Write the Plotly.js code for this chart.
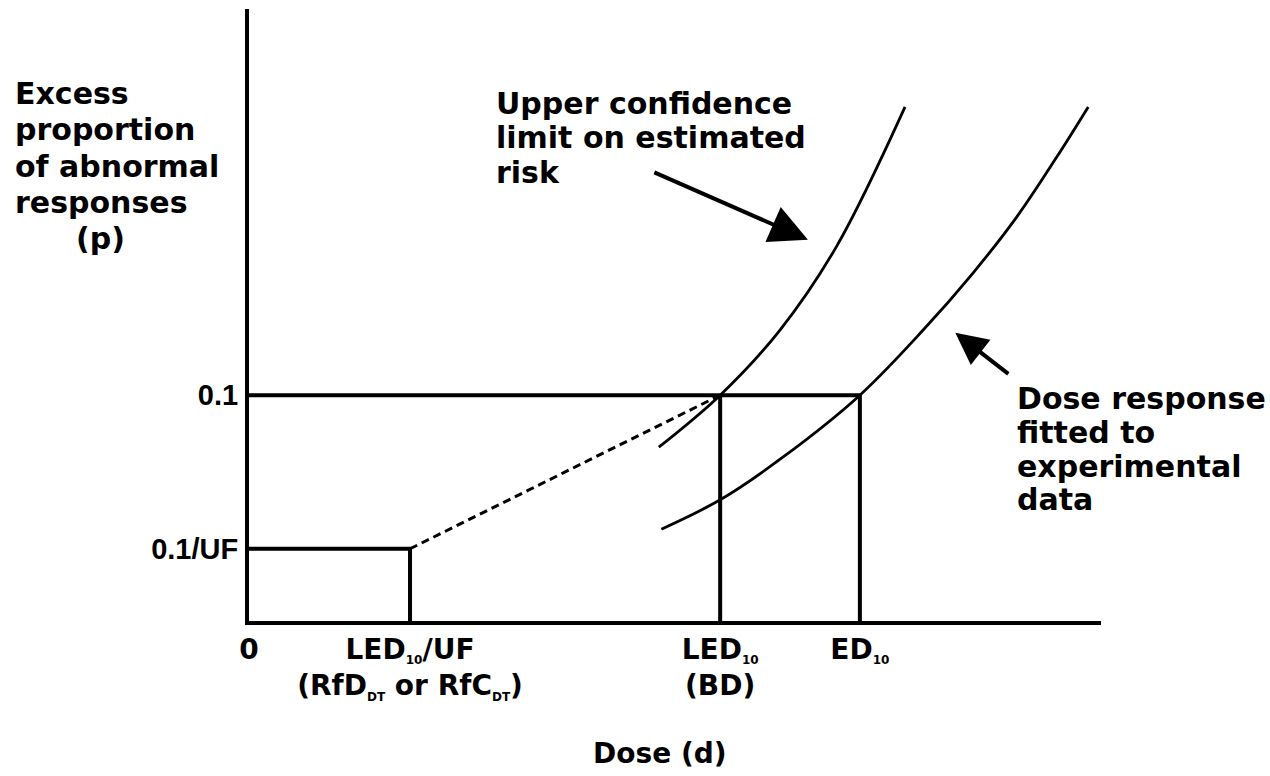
<!DOCTYPE html>
<html><head><meta charset="utf-8">
<script src="https://cdn.plot.ly/plotly-3.0.1.min.js"></script>
<style>html,body{margin:0;padding:0;background:#fff;}</style>
</head><body>
<div id="chart" style="width:1270px;height:776px;"></div>
<script>
// Key doses (arbitrary dose units on a 0-100 axis)
const doseLED10UF = 18.9;
const doseLED10 = 55.3;
const doseED10 = 71.7;
// Key response levels (arbitrary units on a 0-100 axis)
const resp01 = 36.9;
const resp01UF = 11.8;

// Upper confidence limit on estimated risk
const upperDose = [48.1, 55.3, 62.3, 69.0, 77.0];
const upperResp = [28.4, 36.9, 47.5, 61.3, 84.0];
// Dose response fitted to experimental data
const fitDose = [48.4, 55.3, 62.7, 71.7, 79.1, 85.0, 90.1, 94.8, 98.5];
const fitResp = [15.0, 19.8, 26.8, 36.9, 47.5, 56.9, 66.0, 75.8, 84.0];

const SUB = s => '<sub><span style="font-size:12px">' + s + '</span></sub>';
const xTickVals = [0, doseLED10UF, doseLED10, doseED10];
const xTickText = ['0',
  'LED' + SUB('10') + '/UF<br>(RfD' + SUB('DT') + ' or RfC' + SUB('DT') + ')',
  'LED' + SUB('10') + '<br>(BD)',
  'ED' + SUB('10')];
const yTickVals = [resp01UF, resp01];
const yTickText = ['0.1/UF', '0.1'];

const yTitleLines = ['Excess', 'proportion', 'of abnormal', 'responses', '(p)'];
const upperLabelLines = ['Upper confidence', 'limit on estimated', 'risk'];
const fitLabelLines = ['Dose response', 'fitted to', 'experimental', 'data'];
const xTitle = 'Dose (d)';

const black = '#000';
const refLine = {color: black, width: 4};
const traces = [
  {x: [0, doseED10, doseED10], y: [resp01, resp01, 0], mode: 'lines', line: refLine},
  {x: [doseLED10, doseLED10], y: [resp01, 0], mode: 'lines', line: refLine},
  {x: [0, doseLED10UF, doseLED10UF], y: [resp01UF, resp01UF, 0], mode: 'lines', line: refLine},
  {x: [doseLED10UF, doseLED10], y: [resp01UF, resp01], mode: 'lines',
   line: {color: black, width: 3, dash: '8px,5px'}},
  {x: upperDose, y: upperResp, mode: 'lines', line: {color: black, width: 2.8, shape: 'spline', smoothing: 1}},
  {x: fitDose, y: fitResp, mode: 'lines', line: {color: black, width: 2.8, shape: 'spline', smoothing: 1}}
];

// pixel -> paper helpers for text placement
const L = 249, R = 1101, T = 9, B = 621;
const px = v => (v - L) / (R - L);
const py = v => (B - v) / (B - T);
const wordFont = {family: 'DejaVu Sans', size: 30, color: black, weight: 'bold'};

const annotations = [];
const yTitleY = [94, 130, 166, 202, 238];
yTitleLines.forEach((t, i) => annotations.push({
  text: t, xref: 'paper', yref: 'paper', x: px(i === 4 ? 74 : 13), y: py(yTitleY[i]),
  xanchor: 'left', yanchor: 'middle', showarrow: false, font: wordFont}));
const upY = [103, 137, 172];
upperLabelLines.forEach((t, i) => annotations.push({
  text: t, xref: 'paper', yref: 'paper', x: px(494), y: py(upY[i]),
  xanchor: 'left', yanchor: 'middle', showarrow: false, font: wordFont}));
const fitY = [398, 432, 466, 499];
fitLabelLines.forEach((t, i) => annotations.push({
  text: t, xref: 'paper', yref: 'paper', x: px(1015), y: py(fitY[i]),
  xanchor: 'left', yanchor: 'middle', showarrow: false, font: wordFont}));
annotations.push({text: xTitle, xref: 'paper', yref: 'paper', x: px(660), y: py(753),
  xanchor: 'center', yanchor: 'middle', showarrow: false,
  font: {family: 'DejaVu Sans', size: 28, color: black, weight: 'bold'}});
// arrows
annotations.push({x: 65.6, y: 62.3, ax: 47.4, ay: 73.4, xref: 'x', yref: 'y', axref: 'x', ayref: 'y',
  text: '', showarrow: true, arrowhead: 2, arrowsize: 1.9, arrowwidth: 4, arrowcolor: black, standoff: 0});
annotations.push({x: 82.9, y: 47.1, ax: 89.3, ay: 40.2, xref: 'x', yref: 'y', axref: 'x', ayref: 'y',
  text: '', showarrow: true, arrowhead: 2, arrowsize: 1.6, arrowwidth: 4, arrowcolor: black, standoff: 0});

const layout = {
  width: 1270, height: 776,
  margin: {l: L, r: 1270 - R, t: T, b: 776 - B, pad: 0},
  paper_bgcolor: '#fff', plot_bgcolor: '#fff',
  showlegend: false,
  xaxis: {range: [0, 100], showgrid: false, zeroline: false, showline: true, linewidth: 4, linecolor: black,
    tickmode: 'array', tickvals: xTickVals, ticktext: xTickText, ticks: '',
    tickfont: {family: 'DejaVu Sans', size: 28, color: black, weight: 'bold'}, ticklabelstandoff: 0},
  yaxis: {range: [0, 100], showgrid: false, zeroline: false, showline: true, linewidth: 4, linecolor: black,
    tickmode: 'array', tickvals: yTickVals, ticktext: yTickText, ticks: '',
    tickfont: {family: 'Liberation Sans', size: 29, color: black, weight: 'bold'}, ticklabelstandoff: 1},
  annotations: annotations
};
Plotly.newPlot('chart', traces, layout, {displayModeBar: false, staticPlot: true});
</script>
</body></html>
